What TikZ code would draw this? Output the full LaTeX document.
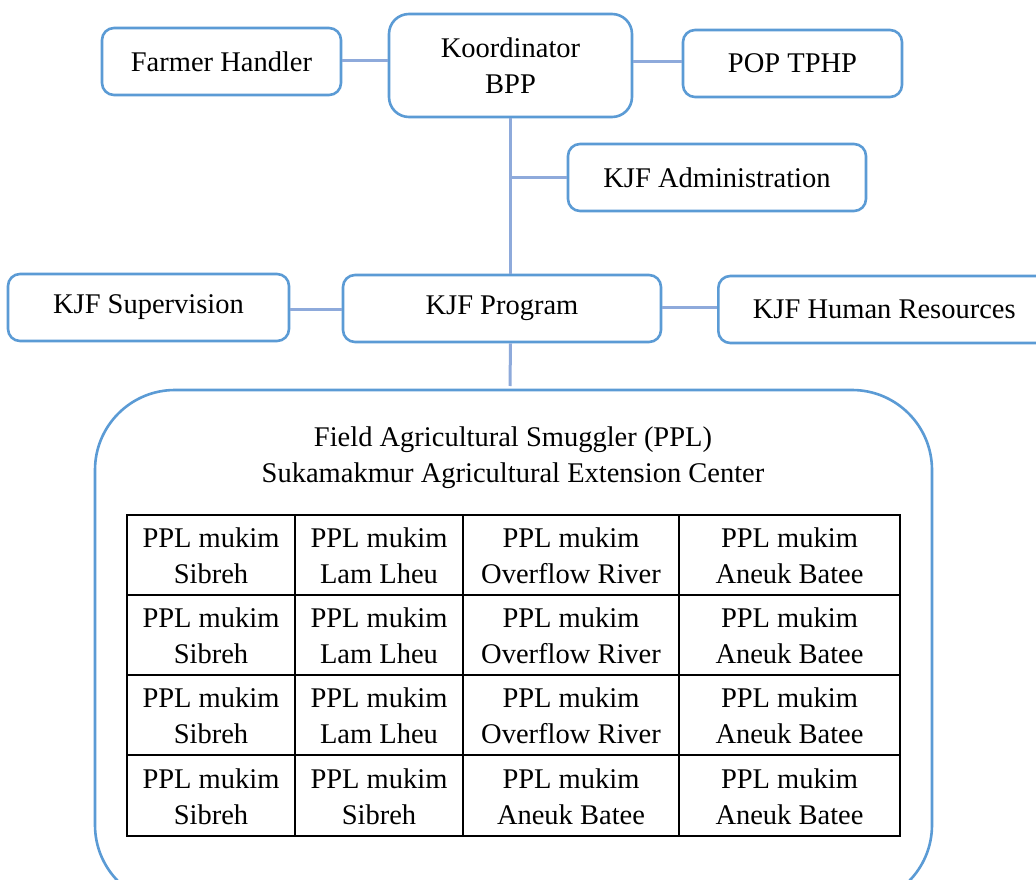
\documentclass[tikz,border=0pt]{standalone}
\usepackage{fontspec}
\setmainfont{Liberation Serif}
\definecolor{boxblue}{HTML}{5B9BD5}
\definecolor{linkblue}{HTML}{8EAADB}
\tikzset{
  orgbox/.style={draw=boxblue, line width=2.6pt, rounded corners=12pt, inner sep=0pt, align=center, font=\fontsize{28.5}{36}\selectfont},
  link/.style={draw=linkblue, line width=3pt},
  cell/.style={inner sep=0pt, align=center, font=\fontsize{28.5}{36}\selectfont},
  grid/.style={draw=black, line width=2.5pt}
}
\begin{document}
\begin{tikzpicture}[x=1pt,y=-1pt]
\useasboundingbox (0,0) rectangle (1036,880);
\clip (0,0) rectangle (1036,880);
\fill[white] (0,0) rectangle (1036,880);
% top row
\node[orgbox, minimum width=239pt, minimum height=67pt] (fh) at (221.5,61.5) {Farmer Handler};
\node[orgbox, rounded corners=20pt, minimum width=243pt, minimum height=103pt] (kb) at (510.5,65.5) {Koordinator\\BPP};
\node[orgbox, minimum width=219pt, minimum height=67pt] (pop) at (792.5,63.5) {POP TPHP};
\node[orgbox, minimum width=298pt, minimum height=67pt] (adm) at (717,177.5) {KJF Administration};
% middle row
\node[orgbox, minimum width=281pt, minimum height=67pt] (sup) at (148.5,307.5) {KJF Supervision};
\node[orgbox, minimum width=318pt, minimum height=67pt] (prog) at (502,308.5) {KJF Program};
\node[orgbox, minimum width=332pt, minimum height=67pt, anchor=west] (hr) at (717,309.5) {KJF Human Resources};
% big box
\draw[draw=boxblue, line width=2.6pt, rounded corners=80pt] (95,390) rectangle (932,905);
\coordinate (bigtop) at (510,386);
\node[cell] (title) at (513,458) {Field Agricultural Smuggler (PPL)\\Sukamakmur Agricultural Extension Center};
% connectors
\draw[link] (fh.east |- 0,61) -- (kb.west |- 0,61);
\draw[link] (kb.east |- 0,62) -- (pop.west |- 0,62);
\draw[link] (kb.south) -- (kb.south |- prog.north);
\draw[link] (kb.south |- adm.west) -- (adm.west);
\draw[link] (sup.east |- 0,309) -- (prog.west |- 0,309);
\draw[link] (prog.east |- 0,307) -- (hr.west |- 0,307);
\draw[link] (kb.south |- prog.south) -- (bigtop);
% table grid
\draw[grid] (127,515) rectangle (900,836);
\foreach \xx in {295,463,679} \draw[grid] (\xx,515) -- (\xx,836);
\foreach \yy in {595,675,755} \draw[grid] (127,\yy) -- (900,\yy);
% cells
\node[cell] (c11) at (211,556) {PPL mukim\\Sibreh};
\node[cell] (c12) at (379,556) {PPL mukim\\Lam Lheu};
\node[cell] (c13) at (571,556) {PPL mukim\\Overflow River};
\node[cell] (c14) at (789.5,556) {PPL mukim\\Aneuk Batee};
\node[cell] (c21) at (211,636) {PPL mukim\\Sibreh};
\node[cell] (c22) at (379,636) {PPL mukim\\Lam Lheu};
\node[cell] (c23) at (571,636) {PPL mukim\\Overflow River};
\node[cell] (c24) at (789.5,636) {PPL mukim\\Aneuk Batee};
\node[cell] (c31) at (211,716) {PPL mukim\\Sibreh};
\node[cell] (c32) at (379,716) {PPL mukim\\Lam Lheu};
\node[cell] (c33) at (571,716) {PPL mukim\\Overflow River};
\node[cell] (c34) at (789.5,716) {PPL mukim\\Aneuk Batee};
\node[cell] (c41) at (211,797) {PPL mukim\\Sibreh};
\node[cell] (c42) at (379,797) {PPL mukim\\Sibreh};
\node[cell] (c43) at (571,797) {PPL mukim\\Aneuk Batee};
\node[cell] (c44) at (789.5,797) {PPL mukim\\Aneuk Batee};
\end{tikzpicture}
\end{document}
